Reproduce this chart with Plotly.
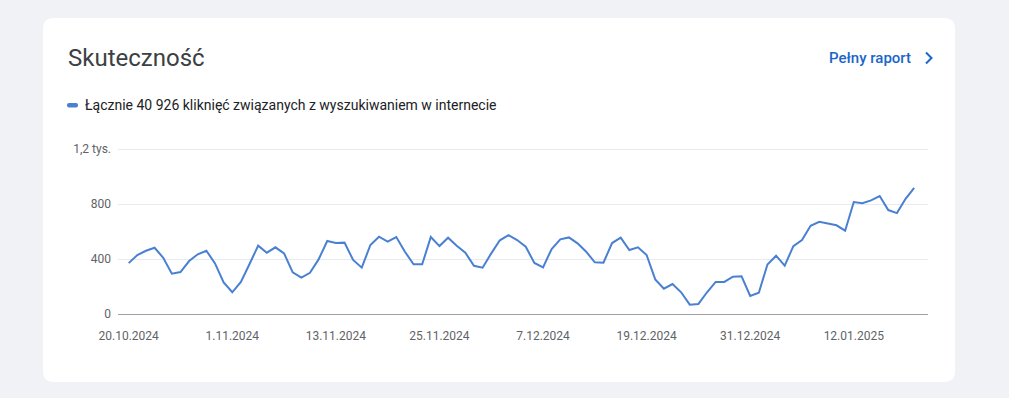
import pandas as pd
import plotly.graph_objects as go

# ---- data ----
start_date = "2024-10-20"
clicks = [370, 429, 460, 482, 409, 293, 305, 385, 434, 460,
          368, 230, 158, 233, 364, 497, 446, 485, 441, 303,
          264, 300, 397, 531, 516, 519, 393, 337, 502, 562,
          526, 560, 453, 361, 361, 560, 494, 555, 497, 446,
          351, 337, 441, 536, 574, 538, 489, 371, 339, 473,
          543, 557, 514, 453, 376, 373, 516, 555, 465, 485,
          429, 252, 184, 218, 158, 68, 73, 158, 233, 233,
          271, 274, 131, 155, 360, 424, 351, 494, 538, 642,
          671, 659, 645, 606, 814, 805, 826, 858, 756, 734,
          838, 918]
dates = pd.date_range(start_date, periods=len(clicks), freq="D")

x_tick_dates = ["2024-10-20", "2024-11-01", "2024-11-13", "2024-11-25",
                "2024-12-07", "2024-12-19", "2024-12-31", "2025-01-12"]
x_tick_labels = ["20.10.2024", "1.11.2024", "13.11.2024", "25.11.2024",
                 "7.12.2024", "19.12.2024", "31.12.2024", "12.01.2025"]
y_tick_vals = [0, 400, 800, 1200]
y_tick_labels = ["0", "400", "800", "1,2 tys."]

title_text = "Skuteczność"
link_text = "Pełny raport"
legend_text = "Łącznie 40 926 kliknięć związanych z wyszukiwaniem w internecie"

# ---- layout geometry (pixels) ----
W, H = 1009, 398
L, R, T, B = 118, 928, 147, 314
PW, PH = R - L, B - T
PX_PER_UNIT = 165 / 1200          # 1200 at y=149, 0 at y=314
Y_TOP = 1200 + (149 - T) / PX_PER_UNIT


def xp(px):
    return (px - L) / PW


def yp(py):
    return (B - py) / PH


def rounded_rect(x0, y0, x1, y1, r):
    X0, X1 = xp(x0), xp(x1)
    Y0, Y1 = yp(y0), yp(y1)
    rx, ry = r / PW, r / PH
    return (f"M {X0+rx},{Y0} L {X1-rx},{Y0} Q {X1},{Y0} {X1},{Y0-ry} "
            f"L {X1},{Y1+ry} Q {X1},{Y1} {X1-rx},{Y1} "
            f"L {X0+rx},{Y1} Q {X0},{Y1} {X0},{Y1+ry} "
            f"L {X0},{Y0-ry} Q {X0},{Y0} {X0+rx},{Y0} Z")


bg = "#f1f2f6"
line_color = "#4a80d2"
link_color = "#1a66c9"
day = pd.Timedelta(days=1)
x_range = [dates[0] - 1.24 * day, dates[-1] + 1.6 * day]

fig = go.Figure()
fig.add_trace(go.Scatter(
    x=dates, y=clicks, mode="lines",
    line=dict(color=line_color, width=2),
    hoverinfo="x+y", showlegend=False,
))

shapes = [
    dict(type="path", xref="paper", yref="paper",
         path=rounded_rect(43, 18, 955, 382, 11),
         fillcolor="white", line=dict(width=0), layer="below"),
    dict(type="path", xref="paper", yref="paper",
         path=rounded_rect(67, 103, 78, 107.5, 2),
         fillcolor=line_color, line=dict(width=0)),
    dict(type="path", xref="paper", yref="paper",
         path=f"M {xp(926)},{yp(52.5)} L {xp(931.5)},{yp(58)} L {xp(926)},{yp(63.5)}",
         line=dict(color=link_color, width=2)),
]

annotations = [
    dict(text=title_text, xref="paper", yref="paper", x=xp(66), y=yp(58),
         xanchor="left", yanchor="middle", showarrow=False,
         font=dict(family="Roboto", size=24, color="#3c4043")),
    dict(text=link_text, xref="paper", yref="paper", x=xp(913), y=yp(58),
         xanchor="right", yanchor="middle", showarrow=False,
         font=dict(family="Roboto", size=15, color=link_color, weight=500)),
    dict(text=legend_text, xref="paper", yref="paper", x=xp(83), y=yp(105),
         xanchor="left", yanchor="middle", showarrow=False,
         font=dict(family="Roboto", size=14, color="#202124")),
]

fig.update_layout(
    width=W, height=H,
    margin=dict(l=L, r=W - R, t=T, b=H - B, pad=0),
    paper_bgcolor=bg,
    plot_bgcolor="white",
    shapes=shapes,
    annotations=annotations,
    showlegend=False,
    font=dict(family="Roboto", size=12, color="#5f6368"),
    xaxis=dict(
        type="date", range=x_range,
        tickvals=x_tick_dates, ticktext=x_tick_labels,
        showgrid=False, zeroline=False,
        showline=True, linecolor="#9aa0a6", linewidth=1,
        ticks="", ticklabelstandoff=11,
        tickfont=dict(family="Roboto", size=12, color="#5f6368"),
        fixedrange=True,
    ),
    yaxis=dict(
        range=[0, Y_TOP],
        tickvals=y_tick_vals, ticktext=y_tick_labels,
        showgrid=True, gridcolor="#e8eaed", gridwidth=1,
        zeroline=False, showline=False,
        ticks="", ticklabelstandoff=6,
        tickfont=dict(family="Roboto", size=12, color="#5f6368"),
        fixedrange=True,
    ),
)

fig.write_html(
    "out.html",
    config={"displayModeBar": False},
    post_script=f"document.body.style.margin='0';document.body.style.background='{bg}';",
)
